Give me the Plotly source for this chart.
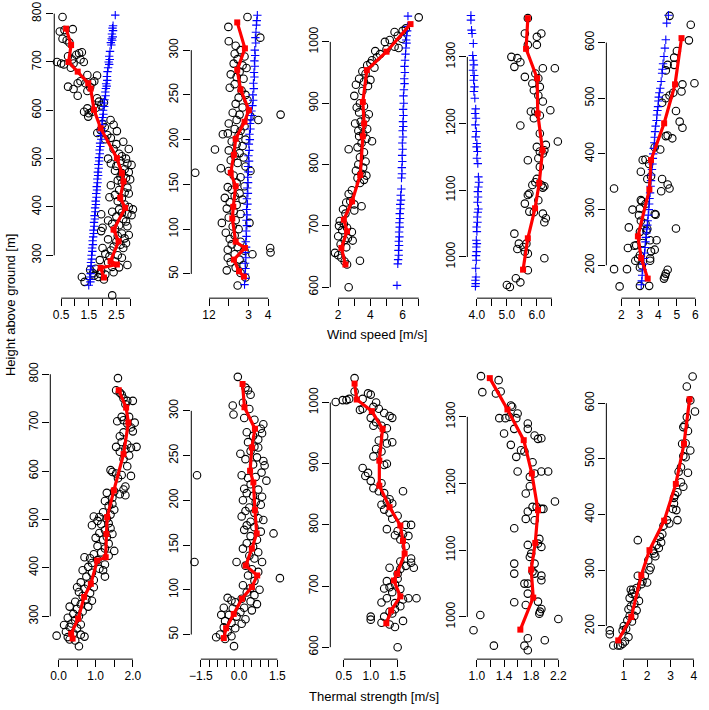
import plotly.graph_objects as go

# ---------------- data ----------------
# Top row: wind speed [m/s] vs height [m]; bottom row: thermal strength [m/s] vs height [m]
p1_circles = [(0.55,793),(0.45,763),(0.62,766),(0.92,768),(0.55,748),(0.7,745),(0.8,740),
    (0.2,700),(0.35,700),(0.5,697),(0.6,695),(0.75,712),(0.9,705),(1.05,715),(1.15,718),(1.25,720),(1.2,705),(1.32,700),(0.95,697),(0.85,688),
    (1.45,673),(1.2,660),(1.1,656),(1.38,656),(1.62,657),(1.7,660),(1.8,672),(0.75,649),(0.95,644),(1.1,630),(1.45,640),(1.55,648),
    (1.8,625),(1.87,618),(2.05,616),(1.33,597),(1.45,604),(1.5,594),(1.62,597),(1.48,587),(1.75,605),(1.95,610),
    (2.0,572),(2.08,565),(2.29,580),(2.4,570),(2.52,557),(1.93,559),(1.81,553),(2.17,549),(2.3,543),(2.1,540),
    (2.5,530),(2.75,535),(2.95,520),(2.6,510),(2.7,505),(2.85,500),(2.2,500),(2.9,490),(2.3,490),(2.5,485),(2.65,495),(3.05,487),(2.8,478),(2.4,520),
    (2.45,475),(2.7,470),(2.95,472),(2.65,462),(2.85,460),(3.0,457),(2.55,455),(2.3,445),(2.7,450),(2.9,440),(2.6,435),(2.8,430),(2.45,425),(2.95,428),(2.25,420),(2.7,418),
    (2.55,412),(2.8,405),(2.95,400),(3.1,395),(2.6,395),(2.7,388),(2.35,390),(2.9,385),(3.05,383),(2.5,380),(2.75,375),(1.95,385),(2.2,372),(2.85,370),
    (2.35,365),(2.6,362),(2.9,360),(2.45,355),(2.0,357),(1.95,350),(2.7,345),(2.95,342),(2.55,340),(2.8,335),(2.2,333),(2.5,328),(2.85,325),(2.65,322),(2.75,315),(2.4,318),
    (2.0,315),(2.3,310),(2.1,303),(2.25,298),(2.55,300),(2.7,295),(1.9,290),(2.2,285),(2.45,287),(2.9,280),(2.6,275),(2.35,276),
    (1.55,270),(1.75,272),(1.95,268),(1.65,263),(1.9,262),(2.1,260),(2.4,265),(1.85,255),(2.05,250),(1.7,258),(1.25,255),(1.35,245),(2.35,217)]
p1_red = [(0.68,769),(0.86,735),(0.77,700),(1.10,680),(1.48,656),(1.57,645),(1.69,601),(1.93,563),(2.52,501),(2.70,470),
    (2.76,453),(2.64,419),(2.82,398),(2.40,353),(2.58,329),(2.29,288),(2.52,281),(1.93,274),(2.05,254)]
p1_blue = [(2.46,797),(2.38,775),(2.36,770),(2.38,765),(2.34,758),(2.37,752),(2.33,748),(2.35,745),(2.30,740),(2.32,735),(2.27,722),(2.24,712),
    (2.26,705),(2.22,700),(2.24,695),(2.20,688),(2.18,680),(2.16,670),(2.17,662),(2.13,655),(2.15,650),(2.12,645),(2.10,638),(2.11,630),
    (2.07,622),(2.05,615),(2.06,608),(2.02,600),(2.03,592),(2.00,585),(1.98,578),(1.99,570),(1.96,562),(1.97,555),(1.93,548),(1.95,540),
    (1.91,532),(1.92,525),(1.89,518),(1.90,510),(1.87,502),(1.88,495),(1.85,488),(1.86,480),(1.83,472),(1.84,465),(1.81,458),(1.82,450),
    (1.79,442),(1.80,435),(1.77,428),(1.78,420),(1.75,412),(1.76,405),(1.73,398),(1.74,390),(1.71,382),(1.72,375),(1.69,368),(1.70,360),
    (1.67,352),(1.68,345),(1.66,338),(1.64,330),(1.65,322),(1.62,315),(1.63,308),(1.60,300),(1.61,292),(1.58,285),(1.59,278),(1.56,270),
    (1.57,262),(1.55,255),(1.54,250),(1.56,245),(1.50,238)]

p2_circles = [(2.95,337),(1.98,326),(2.0,310),(3.6,314),(2.35,305),(2.6,300),(2.3,296),(2.8,293),(2.45,290),(2.25,285),(2.7,283),(2.9,280),
    (2.55,276),(2.1,273),(2.4,270),(2.75,268),(2.3,262),(2.05,258),(2.65,255),(2.85,250),(2.5,247),(2.95,244),(2.35,240),(2.7,236),(2.2,230),
    (2.55,228),(3.1,226),(3.5,222),(2.4,222),(2.0,218),(2.8,215),(2.3,212),(2.6,210),(1.7,206),(1.95,207),(2.5,205),(2.85,200),(2.15,198),
    (2.4,195),(2.7,193),(1.3,189),(2.0,188),(2.55,185),(2.3,182),(2.75,180),(2.1,177),(2.45,174),(2.85,170),(1.6,168),(2.0,165),(3.1,165),
    (0.3,163),(2.25,160),(2.6,158),(2.4,152),(2.8,148),(1.95,147),(2.15,144),(2.55,140),(2.3,137),(1.8,135),(2.7,133),(2.05,130),(2.4,127),
    (1.9,123),(2.25,120),(2.6,117),(2.0,113),(2.35,110),(1.65,107),(3.05,107),(2.2,103),(2.5,100),(1.85,96),(2.3,93),(2.05,89),(2.6,86),
    (2.15,83),(2.45,80),(1.95,77),(2.8,76),(4.1,79),(4.12,74),(3.2,72),(2.3,72),(1.95,68),(2.55,66),(2.1,63),(2.75,60),(2.35,57),(1.9,54),
    (2.6,51),(2.85,46),(2.45,37),(4.63,228)]
p2_red = [(2.43,331),(2.82,302),(2.43,278),(2.60,256),(3.02,233),(2.80,220),(2.35,201),(2.26,183),(2.10,163),(2.35,148),(2.23,125),
    (2.18,112),(2.35,86),(2.82,79),(2.26,66),(2.52,53),(2.77,47)]
p2_blue = [(3.45,339),(3.42,333),(3.40,328),(3.38,320),(3.35,314),(3.37,308),(3.32,300),(3.34,294),(3.30,288),(3.32,282),(3.28,275),
    (3.30,270),(3.25,263),(3.27,257),(3.22,250),(3.24,244),(3.20,238),(3.15,232),(3.18,227),(3.12,222),(3.08,218),(3.10,212),(3.05,206),
    (3.07,200),(3.02,195),(3.04,188),(3.00,182),(3.03,176),(2.98,170),(3.00,164),(2.96,158),(2.98,152),(2.94,146),(2.97,140),(2.92,134),
    (2.95,128),(2.90,122),(2.93,116),(2.90,110),(2.92,104),(2.88,98),(2.90,92),(2.86,86),(2.88,80),(2.84,74),(2.87,68),(2.83,62),(2.85,56),
    (2.82,50),(2.84,45),(2.80,38)]

p3_circles = [(7.0,1040),(6.2,1022),(6.0,1018),(5.5,1016),(5.7,1010),(5.95,1005),(5.2,1003),(4.9,1000),(5.5,992),(5.75,990),(5.0,988),
    (4.3,985),(4.6,980),(4.4,975),(4.1,970),(4.0,965),(3.8,962),(4.25,958),(3.5,952),(3.7,948),(3.3,940),(3.6,935),(4.0,938),(3.1,930),
    (3.85,928),(3.5,920),(3.0,912),(3.35,900),(3.15,893),(3.6,895),(3.3,885),(3.9,882),(3.7,875),(3.4,870),(3.05,867),(3.5,862),(3.8,858),
    (3.25,855),(3.55,850),(3.3,846),(3.75,842),(4.1,838),(3.45,835),(2.65,825),(3.2,828),(3.6,820),(3.35,812),(3.7,805),(3.25,800),
    (3.55,795),(3.1,790),(3.45,785),(3.75,782),(3.2,778),(3.6,775),(3.35,770),(2.85,758),(2.65,752),(2.5,738),(3.0,735),(2.75,740),
    (3.45,732),(2.3,727),(3.0,725),(2.45,720),(2.1,708),(2.35,703),(2.05,700),(2.55,697),(2.25,693),(2.85,690),(2.0,683),(2.6,680),
    (2.4,677),(2.9,676),(2.15,670),(2.5,665),(1.8,656),(2.0,652),(2.2,648),(2.4,642),(3.35,643),(2.55,637),(2.65,600)]
p3_red = [(6.49,1029),(5.00,984),(3.78,954),(3.53,902),(3.61,867),(3.53,846),(3.37,783),(2.86,740),(2.35,710),(2.55,691),(2.20,664),(2.45,637)]
p3_blue = [(6.33,1042),(6.30,1025),(6.28,1018),(6.25,1010),(6.22,1003),(6.24,998),(6.20,990),(6.18,980),(6.15,970),(6.12,960),(6.14,950),
    (6.10,940),(6.12,932),(6.08,922),(6.05,912),(6.07,900),(6.03,890),(6.05,880),(6.02,870),(6.04,862),(6.00,855),(6.02,845),(5.98,835),
    (6.00,825),(5.97,815),(5.98,805),(5.95,795),(5.96,785),(5.93,778),(5.92,760),(5.88,750),(5.90,742),(5.85,735),(5.87,728),(5.82,720),
    (5.84,712),(5.80,705),(5.82,698),(5.78,690),(5.80,682),(5.76,675),(5.78,668),(5.74,660),(5.76,652),(5.72,645),(5.70,638),(5.65,603)]

p4_circles = [(5.7,1358),(5.6,1335),(6.15,1335),(6.0,1330),(5.7,1318),(6.0,1318),(5.15,1300),(5.35,1298),(5.45,1292),(5.25,1285),
    (6.2,1283),(6.6,1283),(5.95,1275),(5.6,1270),(6.05,1268),(5.85,1260),(6.1,1255),(5.9,1250),(6.05,1242),(6.2,1233),(6.45,1220),
    (5.95,1218),(5.8,1218),(6.1,1212),(5.9,1208),(5.45,1197),(6.1,1185),(6.7,1173),(6.3,1168),(6.0,1165),(6.25,1160),(6.1,1158),
    (6.2,1155),(6.05,1148),(5.7,1145),(6.1,1135),(6.0,1117),(5.95,1112),(6.15,1108),(6.25,1106),(6.2,1104),(5.85,1108),(5.75,1095),
    (5.7,1093),(6.05,1085),(5.6,1080),(5.75,1068),(6.2,1065),(6.3,1058),(6.25,1052),(5.9,1067),(5.25,1035),(5.4,1020),(5.55,1015),
    (5.65,1020),(5.35,1012),(5.6,1008),(5.7,1005),(6.25,998),(5.7,980),(5.3,968),(5.45,962),(5.0,958),(5.1,955)]
p4_red = [(5.70,1358),(5.64,1312),(6.01,1268),(6.03,1215),(6.19,1160),(6.08,1111),(5.94,1073),(5.70,1028),(5.54,981)]
p4_blue = [(3.80,1362),(3.80,1355),(3.82,1340),(3.84,1335),(3.88,1320),(3.86,1302),(3.88,1295),(3.90,1288),(3.87,1280),(3.91,1272),
    (3.89,1265),(3.92,1255),(3.90,1248),(3.93,1238),(3.96,1222),(3.94,1215),(3.97,1208),(3.95,1198),(3.98,1188),(3.96,1180),(4.00,1170),
    (3.99,1165),(4.02,1158),(4.00,1148),(4.03,1140),(4.05,1120),(4.07,1112),(4.05,1105),(4.03,1098),(4.04,1090),(4.02,1082),(4.05,1072),
    (4.03,1067),(4.01,1060),(4.02,1052),(3.99,1045),(4.00,1038),(3.98,1025),(4.00,1020),(3.98,1015),(3.99,1008),(3.97,1002),(3.98,995),
    (3.96,983),(3.97,970),(3.95,965),(3.96,960),(3.95,956)]

p5_circles = [(4.6,648),(5.75,632),(5.65,604),(5.0,585),(4.85,573),(4.85,560),(4.5,560),(4.4,550),(5.3,525),(5.95,527),(5.25,512),
    (4.8,510),(4.6,505),(4.4,500),(4.2,492),(4.95,477),(5.15,458),(5.3,447),(4.5,433),(4.4,432),(4.75,428),(4.1,408),(3.8,412),(3.3,390),
    (3.5,382),(3.05,368),(3.4,355),(3.6,360),(4.2,355),(4.5,345),(4.6,338),(4.15,333),(1.6,338),(3.05,317),(3.1,315),(3.3,310),(2.6,300),
    (3.0,302),(3.8,292),(3.85,291),(2.95,290),(3.05,280),(3.3,275),(2.4,268),(4.95,266),(3.4,265),(3.35,262),(3.0,260),(3.9,245),
    (3.55,245),(2.7,235),(2.8,236),(2.35,231),(3.15,240),(3.6,225),(3.8,228),(3.0,218),(3.55,212),(2.9,212),(2.75,208),(3.55,208),
    (3.1,200),(3.0,196),(4.5,192),(4.4,185),(4.35,180),(4.3,176),(1.6,193),(2.3,193),(1.9,162),(3.0,163),(3.5,163),(3.15,389)]
p5_red = [(5.25,608),(4.90,525),(4.31,455),(3.60,389),(3.51,336),(2.89,252),(3.07,213),(3.42,176)]
p5_blue = [(4.54,649),(4.45,635),(4.40,605),(4.35,590),(4.30,575),(4.25,562),(4.22,552),(4.20,545),(4.15,530),(4.10,518),(4.05,510),
    (4.02,502),(4.00,495),(3.98,485),(3.95,478),(3.92,470),(3.90,460),(3.85,450),(3.82,440),(3.80,430),(3.78,420),(3.75,410),(3.72,400),
    (3.70,392),(3.68,382),(3.65,372),(3.62,362),(3.60,352),(3.58,342),(3.55,330),(3.52,320),(3.50,310),(3.48,300),(3.45,290),(3.42,280),
    (3.40,272),(3.38,265),(3.35,258),(3.32,250),(3.30,242),(3.28,232),(3.25,222),(3.22,212),(3.18,202),(3.15,192),(3.12,182),(3.10,172),
    (3.07,165)]

p6_circles = [(1.6,792),(1.55,767),(1.65,762),(1.7,758),(1.75,750),(1.85,745),(2.0,745),(1.8,738),(1.7,712),(1.9,712),(1.58,703),
    (1.75,705),(1.85,698),(2.05,700),(1.95,690),(2.0,682),(1.75,680),(1.65,672),(1.7,660),(1.85,655),(1.55,650),(1.95,648),(2.1,650),
    (1.8,645),(1.65,640),(1.9,632),(1.75,625),(1.85,610),(1.95,590),(1.4,602),(1.45,598),(1.55,595),(1.7,592),(1.6,585),(1.8,568),
    (1.75,562),(1.5,558),(1.65,552),(1.8,550),(1.45,545),(1.3,555),(1.25,538),(1.45,532),(1.35,528),(1.5,520),(1.2,515),(1.4,510),
    (0.95,506),(1.1,505),(1.3,502),(1.05,497),(1.35,492),(1.15,490),(0.9,488),(1.4,482),(1.25,478),(1.1,472),(1.45,470),(1.3,464),
    (1.0,462),(1.2,458),(1.35,450),(1.05,445),(1.25,440),(1.5,435),(1.15,432),(0.95,428),(1.35,425),(0.7,422),(0.85,420),(1.05,416),
    (0.9,410),(1.25,407),(0.8,402),(1.1,398),(1.2,395),(0.65,395),(0.9,390),(1.25,382),(0.75,382),(0.95,375),(0.6,370),(0.8,365),
    (0.5,360),(0.7,357),(0.95,360),(0.55,350),(0.85,348),(0.65,342),(0.75,335),(0.9,332),(0.45,330),(0.6,325),(0.8,320),(0.3,320),
    (0.5,315),(0.65,310),(0.4,305),(0.55,300),(0.25,297),(0.45,292),(0.35,285),(0.6,283),(0.15,282),(0.3,278),(0.5,275),(0.2,268),
    (0.4,265),(0.6,262),(-0.05,260),(0.25,257),(0.7,258),(0.45,250),(0.3,252),(0.55,238)]
p6_red = [(1.62,767),(1.82,731),(1.88,700),(1.75,635),(1.49,560),(1.31,505),(1.29,470),(1.27,422),(1.04,415),(0.87,367),(0.69,340),
    (0.53,295),(0.34,264),(0.38,254)]

p7_circles = [(-0.05,338),(0.25,326),(0.35,323),(0.45,318),(-0.25,306),(-0.22,296),(0.15,309),(0.4,302),(0.2,292),(0.6,290),(0.95,285),
    (0.85,280),(0.3,276),(0.55,272),(0.75,268),(0.9,275),(0.35,265),(0.6,260),(0.05,252),(0.75,259),(0.45,255),(0.25,246),(0.95,244),
    (0.7,248),(1.0,239),(0.55,240),(0.88,231),(0.1,228),(0.35,225),(1.07,222),(-1.65,228),(0.65,226),(0.45,218),(0.2,213),(0.75,212),
    (0.3,208),(0.55,205),(0.9,204),(0.15,200),(0.65,198),(0.85,195),(0.4,192),(0.25,188),(0.6,186),(0.1,182),(0.75,180),(0.45,176),
    (0.95,178),(0.3,172),(0.6,170),(0.2,167),(0.85,165),(1.35,163),(0.45,160),(0.7,156),(0.3,152),(0.55,148),(0.15,146),(0.75,142),
    (0.4,138),(0.6,135),(0.9,131),(-0.1,131),(-1.75,131),(0.25,127),(0.5,123),(0.75,120),(0.35,116),(1.6,113),(0.6,110),(0.15,105),
    (0.45,102),(0.8,100),(0.3,97),(0.6,94),(0.1,90),(0.45,87),(0.7,84),(-0.15,86),(-0.45,91),(-0.3,88),(0.2,80),(0.5,77),(-0.6,80),
    (-0.25,79),(0.05,75),(-0.4,72),(-0.7,72),(-0.1,70),(0.25,67),(-0.55,65),(-0.3,63),(0.1,62),(-0.6,58),(-0.15,57),(-0.45,53),
    (-0.75,50),(-0.3,48),(-0.55,45),(-0.9,47),(-0.2,37)]
p7_red = [(0.135,330),(0.21,304),(0.62,280),(0.50,259),(0.43,233),(0.56,220),(0.62,189),(0.69,163),(0.50,146),(0.26,127),(0.71,116),
    (0.50,103),(0.11,90),(-0.21,73),(-0.51,57),(-0.60,46)]

p8_circles = [(0.7,1040),(0.7,1018),(0.35,1001),(0.48,1004),(0.55,1004),(0.6,1006),(0.85,1006),(0.95,1015),(1.0,1013),(1.1,1000),
    (0.8,988),(0.85,990),(1.05,993),(1.15,990),(1.25,983),(1.35,978),(1.4,975),(1.0,975),(1.1,968),(1.05,962),(1.2,962),(1.3,958),
    (1.25,945),(1.15,938),(1.4,935),(1.3,933),(1.1,924),(1.2,920),(1.05,912),(1.25,898),(1.3,900),(0.85,893),(0.95,885),(0.9,880),
    (1.0,872),(1.2,868),(1.05,860),(1.15,855),(1.25,852),(1.6,855),(1.35,842),(1.3,838),(1.2,833),(1.4,835),(1.25,825),(1.35,820),
    (1.5,815),(1.4,810),(1.3,793),(1.65,800),(1.75,800),(1.5,790),(1.6,785),(1.45,783),(1.7,782),(1.55,776),(1.65,765),(1.75,745),
    (1.55,740),(1.75,738),(1.8,730),(1.65,733),(1.55,728),(1.5,720),(1.35,730),(1.5,712),(1.3,708),(1.45,703),(1.35,698),(1.25,696),
    (1.55,695),(1.4,690),(1.7,680),(1.6,678),(1.85,680),(1.3,680),(1.45,672),(1.2,673),(1.55,667),(1.45,662),(1.35,658),(1.4,655),
    (1.25,650),(1.0,650),(1.0,645),(1.2,640),(1.35,637),(1.6,643),(1.45,633),(1.5,600)]
p8_red = [(0.70,1031),(0.74,1005),(1.02,986),(1.22,957),(1.16,905),(1.16,864),(1.35,829),(1.55,799),(1.60,774),(1.63,753),(1.49,720),
    (1.43,709),(1.55,683),(1.38,660),(1.29,639)]

p9_circles = [(1.06,1361),(1.32,1355),(1.08,1337),(1.28,1335),(1.35,1338),(1.5,1317),(1.52,1315),(1.48,1300),(1.33,1298),(1.6,1305),
    (1.58,1298),(1.42,1298),(1.55,1282),(1.75,1290),(1.75,1282),(1.4,1275),(1.85,1272),(1.95,1268),(1.9,1267),(1.5,1258),(1.65,1250),
    (1.7,1248),(1.58,1240),(1.82,1232),(1.95,1218),(2.05,1218),(1.85,1215),(1.6,1218),(1.78,1210),(1.78,1196),(1.72,1185),(2.15,1173),
    (1.88,1165),(1.82,1165),(1.95,1162),(1.98,1162),(1.75,1158),(1.85,1145),(1.72,1147),(1.55,1133),(1.75,1108),(1.92,1117),(1.9,1110),
    (1.95,1105),(1.8,1095),(1.78,1090),(1.85,1080),(1.55,1080),(1.82,1068),(1.85,1065),(1.95,1062),(1.95,1055),(1.55,1065),(1.7,1050),
    (1.75,1050),(1.75,1035),(1.72,1018),(1.9,1023),(1.95,1012),(1.93,1008),(1.92,1005),(1.55,1022),(2.2,997),(1.05,1003),(0.95,980),
    (1.75,968),(1.25,957),(1.7,957),(1.75,950),(2.0,965)]
p9_red = [(1.19,1358),(1.45,1311),(1.69,1265),(1.81,1215),(1.90,1160),(1.86,1111),(1.80,1071),(1.83,1029),(1.64,981)]

p10_circles = [(3.95,648),(3.7,630),(4.05,585),(3.85,605),(3.7,575),(3.6,560),(3.55,557),(3.75,550),(3.5,527),(3.65,528),(3.85,515),
    (3.55,505),(3.65,503),(3.45,485),(3.75,475),(3.35,477),(3.45,458),(3.55,450),(3.3,440),(3.2,435),(3.15,430),(3.15,420),(3.1,410),
    (3.25,408),(3.3,390),(2.85,390),(2.95,384),(2.7,380),(2.65,365),(2.55,360),(2.6,350),(2.4,345),(2.5,340),(2.25,335),(1.6,354),
    (2.3,330),(2.35,325),(2.05,318),(2.15,305),(2.1,300),(1.9,290),(1.6,290),(1.8,280),(2.0,278),(1.75,275),(1.55,268),(1.4,265),
    (1.3,265),(1.35,258),(1.5,255),(1.25,250),(1.65,245),(1.45,240),(1.3,235),(1.2,230),(1.55,228),(1.25,218),(1.45,218),(1.15,210),
    (1.35,208),(1.0,200),(1.1,195),(0.95,192),(1.2,180),(1.05,172),(0.95,168),(0.85,165),(0.75,165),(0.55,165),(0.4,185),(0.4,192)]
p10_red = [(3.82,607),(3.58,527),(3.23,455),(2.73,389),(2.10,336),(1.75,291),(1.32,216),(0.76,174)]

# tick values / labels per panel
x_ticks = [
    ([0.5, 1.0, 1.5, 2.0, 2.5, 3.0], ["0.5", "", "1.5", "", "2.5", ""]),
    ([1, 2, 3, 4], ["12", "", "3", "4"]),
    ([2, 3, 4, 5, 6, 7], ["2", "", "4", "", "6", ""]),
    ([4.0, 4.5, 5.0, 5.5, 6.0, 6.5], ["4.0", "", "5.0", "", "6.0", ""]),
    ([2, 3, 4, 5, 6], ["2", "3", "4", "5", "6"]),
    ([0.0, 0.5, 1.0, 1.5, 2.0], ["0.0", "", "1.0", "", "2.0"]),
    ([-1.5, 0.0, 1.5], ["\u22121.5", "0.0", "1.5"]),
    ([0.5, 1.0, 1.5], ["0.5", "1.0", "1.5"]),
    ([1.0, 1.2, 1.4, 1.6, 1.8, 2.0, 2.2], ["1.0", "", "1.4", "", "1.8", "", "2.2"]),
    ([1, 2, 3, 4], ["1", "2", "3", "4"]),
]
y_ticks = [
    [300, 400, 500, 600, 700, 800],
    [50, 100, 150, 200, 250, 300],
    [600, 700, 800, 900, 1000],
    [1000, 1100, 1200, 1300],
    [200, 300, 400, 500, 600],
    [300, 400, 500, 600, 700, 800],
    [50, 100, 150, 200, 250, 300],
    [600, 700, 800, 900, 1000],
    [1000, 1100, 1200, 1300],
    [200, 300, 400, 500, 600],
]
panel7_minor_ticks = [-1.5, -7/6, -5/6, -0.5, -1/6, 1/6, 0.5, 5/6, 7/6, 1.5]

circles = [p1_circles, p2_circles, p3_circles, p4_circles, p5_circles,
           p6_circles, p7_circles, p8_circles, p9_circles, p10_circles]
reds = [p1_red, p2_red, p3_red, p4_red, p5_red, p6_red, p7_red, p8_red, p9_red, p10_red]
blues = [p1_blue, p2_blue, p3_blue, p4_blue, p5_blue, None, None, None, None, None]

# ---------------- layout geometry (pixels) ----------------
W, H = 709, 710
lefts = [53, 192, 333, 472, 613, 49, 192, 333, 472, 613]
PW = 93
row_tb = [(2, 297), (363, 659)]
# axis calibration: (value, pixel, value, pixel)
xcal = [(0.5, 60, 3.0, 130), (1, 210, 4, 270), (2, 341, 7, 422.7), (4.0, 481.7, 6.5, 557.7), (2, 628.3, 6, 703.3),
        (0.0, 57.3, 2.0, 132.7), (-1.5, 201.7, 1.5, 279.3), (0.5, 346.7, 1.5, 401.3), (1.0, 481.7, 2.2, 564.3), (1, 630.7, 4, 701.7)]
ycal = [(800, 11.7, 300, 254), (300, 48.3, 50, 272.7), (1000, 40, 600, 286), (1300, 55, 1000, 255.7), (600, 40.7, 200, 264),
        (800, 373.3, 300, 616), (300, 410, 50, 634.3), (1000, 401.7, 600, 647), (1300, 416, 1000, 616.7), (600, 402.3, 200, 625.7)]


def lin(c, p):
    a, pa, b, pb = c
    return a + (p - pa) * (b - a) / (pb - pa)


FONT = "Liberation Sans, Arial, Helvetica, sans-serif"
fig = go.Figure()
layout = dict(width=W, height=H, margin=dict(l=0, r=0, t=0, b=0),
              paper_bgcolor="white", plot_bgcolor="white", showlegend=False,
              font=dict(family=FONT, size=12, color="black"))
shapes = []

for i in range(10):
    sfx = "" if i == 0 else str(i + 1)
    xr, yr = "x" + sfx, "y" + sfx
    L = lefts[i]
    R = L + PW
    T, B = row_tb[0] if i < 5 else row_tb[1]
    tv, tt = x_ticks[i]
    xa = dict(domain=[L / W, R / W], range=[lin(xcal[i], L), lin(xcal[i], R)], anchor=yr,
              showgrid=False, zeroline=False, showline=False,
              ticks="outside", ticklen=7, tickwidth=1, tickcolor="black",
              tickmode="array", tickvals=tv, ticktext=tt, ticklabelstandoff=-2,
              tickfont=dict(family=FONT, size=12, color="black"))
    if i == 6:
        xa["tickcolor"] = "rgba(0,0,0,0)"
        xa["minor"] = dict(tickmode="array", tickvals=panel7_minor_ticks, ticks="outside",
                           ticklen=7, tickwidth=1, tickcolor="black", showgrid=False)
    ya = dict(domain=[1 - B / H, 1 - T / H], range=[lin(ycal[i], B), lin(ycal[i], T)], anchor=xr,
              showgrid=False, zeroline=False, showline=False,
              ticks="outside", ticklen=7, tickwidth=1, tickcolor="black",
              tickmode="array", tickvals=y_ticks[i], ticktext=[str(v) for v in y_ticks[i]],
              tickangle=-90, tickfont=dict(family=FONT, size=12, color="black"))
    layout["xaxis" + sfx] = xa
    layout["yaxis" + sfx] = ya

    # R-style axis lines spanning first to last tick
    shapes.append(dict(type="line", xref=xr + " domain", yref=yr, x0=0, x1=0,
                       y0=y_ticks[i][0], y1=y_ticks[i][-1], line=dict(color="black", width=1)))
    shapes.append(dict(type="line", xref=xr, yref=yr + " domain", y0=0, y1=0,
                       x0=tv[0], x1=tv[-1], line=dict(color="black", width=1)))

    c = circles[i]
    fig.add_trace(go.Scatter(x=[p[0] for p in c], y=[p[1] for p in c], mode="markers",
                             xaxis=xr, yaxis=yr, cliponaxis=False, hoverinfo="skip",
                             marker=dict(symbol="circle-open", size=7.5, color="black", line=dict(width=1.1))))
    if blues[i] is not None:
        b = blues[i]
        fig.add_trace(go.Scatter(x=[p[0] for p in b], y=[p[1] for p in b], mode="markers",
                                 xaxis=xr, yaxis=yr, cliponaxis=False, hoverinfo="skip",
                                 marker=dict(symbol="cross-thin-open", size=6, color="#0000FF",
                                             line=dict(width=1.1, color="#0000FF"))))
    r = reds[i]
    fig.add_trace(go.Scatter(x=[p[0] for p in r], y=[p[1] for p in r], mode="lines+markers",
                             xaxis=xr, yaxis=yr, cliponaxis=False, hoverinfo="skip",
                             line=dict(color="#FF0000", width=3.2),
                             marker=dict(symbol="square", size=6, color="#FF0000")))

layout["shapes"] = shapes
layout["annotations"] = [
    dict(text="Height above ground [m]", x=8 / W, y=1 - 304 / H, xref="paper", yref="paper",
         xanchor="center", yanchor="middle",
         showarrow=False, textangle=-90, font=dict(family=FONT, size=13, color="black")),
    dict(text="Wind speed [m/s]", x=380 / W, y=1 - 333 / H, xref="paper", yref="paper",
         xanchor="center", yanchor="middle",
         showarrow=False, font=dict(family=FONT, size=13, color="black")),
    dict(text="Thermal strength [m/s]", x=377 / W, y=1 - 696 / H, xref="paper", yref="paper",
         xanchor="center", yanchor="middle",
         showarrow=False, font=dict(family=FONT, size=13, color="black")),
]
fig.update_layout(**layout)
fig.write_html("out.html", config={"displayModeBar": False},
               post_script="document.body.style.margin='0';document.body.style.overflow='hidden';")
